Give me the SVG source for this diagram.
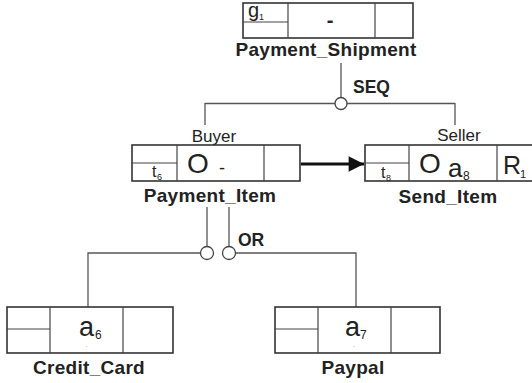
<svg xmlns="http://www.w3.org/2000/svg" width="532" height="383" viewBox="0 0 532 383">
<defs>
<marker id="arr" viewBox="0 0 10 10" refX="10" refY="5" markerWidth="6.2" markerHeight="5.5" markerUnits="strokeWidth" orient="auto"><path d="M0,0 L10,5 L0,10 z" fill="#111"/></marker>
<style>
.box{fill:#fff;stroke:#333;stroke-width:1.6}
.div{stroke:#444;stroke-width:1.2;fill:none}
.con{stroke:#555;stroke-width:1.3;fill:none}
.circ{fill:#fff;stroke:#444;stroke-width:1.3}
.lbl{font-family:"Liberation Sans",Arial,sans-serif;font-weight:bold;font-size:19px;fill:#222;letter-spacing:0.3px;text-anchor:middle}
.op{font-family:"Liberation Sans",Arial,sans-serif;font-weight:bold;font-size:17.5px;fill:#222}
.role{font-family:"Liberation Sans",Arial,sans-serif;font-size:17px;fill:#222;text-anchor:middle}
.t{font-family:"Liberation Sans",Arial,sans-serif;fill:#222}
</style>
</defs>
<g id="connectors">
<line class="con" x1="341" y1="63" x2="341" y2="97"/>
<line class="con" x1="205" y1="103.5" x2="455" y2="103.5"/>
<line class="con" x1="205" y1="103" x2="205" y2="125"/>
<line class="con" x1="455" y1="103" x2="455" y2="125"/>
<circle class="circ" cx="341" cy="103.5" r="6"/>
<line x1="301" y1="164" x2="364" y2="164" stroke="#111" stroke-width="2.8" marker-end="url(#arr)"/>
<line class="con" x1="207" y1="207" x2="207" y2="246.5"/>
<line class="con" x1="229" y1="207" x2="229" y2="246.5"/>
<polyline class="con" points="88,307 88,253 200.5,253"/>
<polyline class="con" points="356,307 356,253 235.5,253"/>
<circle class="circ" cx="207" cy="253" r="6.5"/>
<circle class="circ" cx="229" cy="253" r="6.5"/>
</g>
<g id="Payment_Shipment">
<rect class="box" x="243" y="3" width="170" height="35"/>
<line class="div" x1="243" y1="22" x2="288" y2="22"/>
<line class="div" x1="288" y1="3" x2="288" y2="38"/>
<line class="div" x1="375" y1="3" x2="375" y2="38"/>
<text class="t" x="248" y="17" font-size="20">g</text>
<text class="t" x="259" y="20" font-size="9">1</text>
<text class="t" x="330" y="27" font-size="20" font-weight="bold" text-anchor="middle">-</text>
<text class="lbl" x="326" y="56">Payment_Shipment</text>
</g>
<text class="op" x="353" y="93">SEQ</text>
<g id="Payment_Item">
<text class="role" x="214" y="142">Buyer</text>
<rect class="box" x="132" y="145" width="168" height="36"/>
<line class="div" x1="132" y1="163" x2="177" y2="163"/>
<line class="div" x1="177" y1="145" x2="177" y2="181"/>
<line class="div" x1="264" y1="145" x2="264" y2="181"/>
<text class="t" x="152" y="177" font-size="16">t</text>
<text class="t" x="157" y="180" font-size="9">6</text>
<text class="t" x="187" y="173" font-size="28">O</text>
<text class="t" x="219" y="174" font-size="18">-</text>
<text class="lbl" x="210" y="202">Payment_Item</text>
</g>
<g id="Send_Item">
<text class="role" x="459" y="141">Seller</text>
<rect class="box" x="365" y="145" width="172" height="36"/>
<line class="div" x1="365" y1="163" x2="409" y2="163"/>
<line class="div" x1="409" y1="145" x2="409" y2="181"/>
<line class="div" x1="497" y1="145" x2="497" y2="181"/>
<text class="t" x="381" y="178" font-size="16">t</text>
<text class="t" x="386" y="181" font-size="9">8</text>
<text class="t" x="419" y="173" font-size="28">O</text>
<text class="t" x="448" y="177" font-size="26">a</text>
<text class="t" x="463" y="180" font-size="12">8</text>
<text class="t" x="503" y="174" font-size="25">R</text>
<text class="t" x="520" y="178" font-size="11">1</text>
<text class="lbl" x="448" y="203">Send_Item</text>
</g>
<g id="Credit_Card">
<rect class="box" x="7" y="307" width="166" height="46"/>
<line class="div" x1="7" y1="329" x2="50" y2="329"/>
<line class="div" x1="50" y1="307" x2="50" y2="353"/>
<line class="div" x1="123" y1="307" x2="123" y2="353"/>
<text class="t" x="79" y="336" font-size="27">a</text>
<text class="t" x="95" y="339" font-size="12">6</text>
<text class="t" x="86" y="347" font-size="5">.</text>
<text class="lbl" x="89" y="374">Credit_Card</text>
</g>
<g id="Paypal">
<rect class="box" x="275" y="307" width="165" height="46"/>
<line class="div" x1="275" y1="329" x2="318" y2="329"/>
<line class="div" x1="318" y1="307" x2="318" y2="353"/>
<line class="div" x1="391" y1="307" x2="391" y2="353"/>
<text class="t" x="345" y="336" font-size="27">a</text>
<text class="t" x="360" y="339" font-size="12">7</text>
<text class="t" x="353" y="347" font-size="5">.</text>
<text class="lbl" x="353" y="374">Paypal</text>
</g>
<text class="op" x="238" y="246">OR</text>
</svg>
